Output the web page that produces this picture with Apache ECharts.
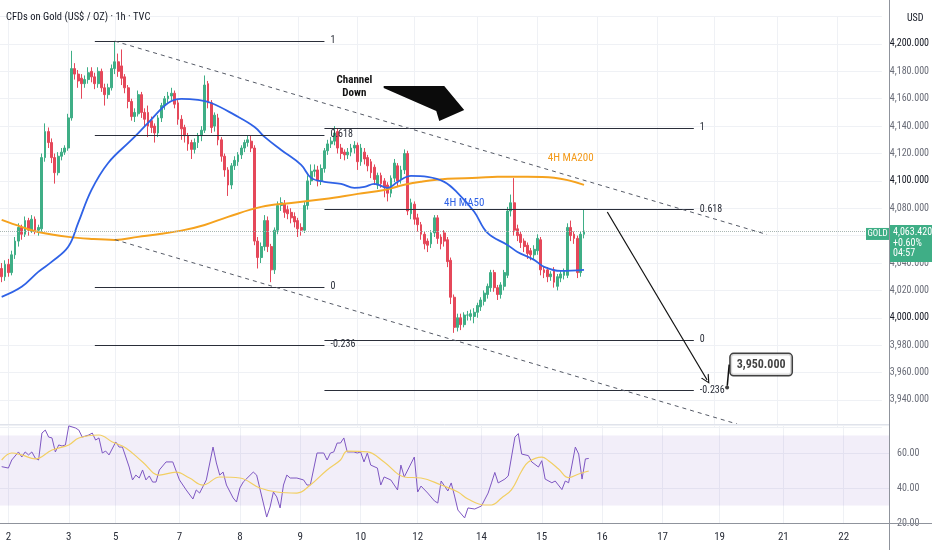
<!DOCTYPE html>
<html>
<head>
<meta charset="utf-8">
<title>CFDs on Gold (US$ / OZ) 1h</title>
<script src="https://cdn.jsdelivr.net/npm/echarts@6/dist/echarts.min.js"></script>
<style>
  body { margin: 0; padding: 0; background: #fff; overflow: hidden; }
  #chart { width: 932px; height: 550px; }
</style>
</head>
<body>
<div id="chart"></div>
<script>
// candles in slot order: [open, close, low, high]
const candles = [
  [4036,4030,4026,4040],[4030,4039,4027,4042],[4039,4033,4030,4043],[4033,4046,4031,4049],
  [4046,4056,4043,4059],[4056,4066,4052,4069],[4066,4061,4057,4068],[4061,4071,4059,4074],
  [4071,4064,4060,4073],[4064,4072,4062,4075],[4072,4064,4061,4074],[4064,4066,4060,4068],
  [4065,4117,4063,4120],[4117,4136,4114,4142],[4136,4128,4124,4139],[4128,4117,4113,4131],
  [4117,4106,4098,4120],[4106,4118,4104,4121],[4118,4121,4115,4124],[4121,4124,4119,4126],
  [4124,4146,4122,4149],[4146,4182,4144,4195],[4182,4178,4174,4186],[4178,4173,4168,4181],
  [4175,4171,4160,4178],[4171,4174,4168,4177],[4174,4179,4171,4183],[4180,4176,4172,4183],
  [4176,4171,4167,4179],[4171,4180,4168,4183],[4180,4168,4165,4182],[4168,4163,4155,4171],
  [4163,4168,4160,4171],[4168,4182,4166,4185],[4182,4187,4178,4202],[4187,4180,4176,4193],
  [4184,4175,4170,4196],[4176,4168,4164,4178],[4168,4158,4153,4170],[4158,4147,4144,4160],
  [4147,4150,4143,4153],[4149,4163,4147,4166],[4163,4150,4146,4165],[4150,4145,4140,4153],
  [4150,4140,4132,4155],[4144,4139,4135,4147],[4140,4135,4128,4142],[4135,4146,4132,4148],
  [4146,4155,4143,4157],[4155,4160,4152,4162],[4160,4162,4157,4165],[4162,4164,4159,4168],
  [4164,4156,4153,4166],[4157,4145,4141,4159],[4145,4138,4130,4148],[4139,4133,4128,4141],
  [4133,4127,4122,4135],[4128,4123,4116,4130],[4123,4128,4120,4131],[4128,4133,4124,4135],
  [4133,4137,4129,4140],[4137,4170,4135,4177],[4171,4157,4153,4173],[4157,4139,4135,4159],
  [4140,4148,4136,4150],[4146,4130,4126,4149],[4130,4118,4114,4132],[4118,4108,4103,4120],
  [4108,4097,4089,4110],[4097,4111,4094,4113],[4111,4115,4108,4118],[4114,4119,4111,4121],
  [4119,4124,4116,4126],[4124,4128,4121,4130],[4128,4130,4125,4133],[4129,4124,4121,4133],
  [4124,4056,4053,4126],[4056,4044,4036,4059],[4044,4052,4040,4055],[4052,4071,4049,4075],
  [4071,4052,4048,4074],[4052,4035,4026,4054],[4035,4064,4032,4066],[4064,4082,4061,4085],
  [4082,4084,4078,4088],[4083,4077,4073,4086],[4079,4076,4072,4082],[4077,4073,4069,4080],
  [4074,4070,4066,4077],[4071,4065,4059,4073],[4066,4064,4060,4069],[4064,4082,4062,4085],
  [4082,4100,4079,4104],[4100,4107,4097,4112],[4107,4108,4103,4112],[4108,4100,4096,4111],
  [4100,4109,4097,4112],[4109,4122,4106,4124],[4122,4127,4119,4130],[4127,4129,4124,4132],
  [4129,4135,4126,4140],[4136,4124,4120,4138],[4124,4120,4116,4127],[4121,4119,4115,4123],
  [4119,4121,4116,4124],[4121,4124,4118,4127],[4124,4126,4120,4129],[4126,4114,4108,4128],
  [4114,4124,4111,4127],[4121,4116,4112,4124],[4117,4111,4107,4119],[4114,4106,4102,4116],
  [4110,4101,4097,4112],[4097,4104,4094,4106],[4104,4098,4095,4106],[4100,4095,4088,4102],
  [4097,4091,4085,4099],[4091,4102,4088,4104],[4102,4113,4099,4116],[4111,4100,4096,4113],
  [4101,4108,4098,4111],[4108,4120,4105,4123],[4120,4078,4075,4122],[4076,4084,4072,4087],
  [4083,4072,4068,4085],[4073,4068,4063,4076],[4068,4061,4057,4070],[4061,4054,4050,4063],
  [4056,4053,4048,4058],[4054,4062,4051,4064],[4062,4073,4059,4075],[4073,4058,4054,4075],
  [4059,4054,4050,4061],[4062,4056,4052,4064],[4057,4041,4037,4059],[4042,4015,4010,4044],
  [4015,3993,3989,4017],[3993,4000,3990,4003],[4000,3995,3991,4003],[3995,4002,3993,4004],
  [4002,4002,3998,4005],[4001,4003,3998,4006],[4001,4004,3996,4007],[4004,4009,4000,4011],
  [4008,4013,4005,4015],[4012,4018,4009,4020],[4017,4023,4014,4025],[4022,4033,4019,4035],
  [4033,4022,4019,4035],[4022,4017,4013,4024],[4017,4024,4014,4026],[4023,4033,4020,4035],
  [4031,4078,4029,4081],[4078,4084,4074,4090],[4084,4064,4060,4102],[4065,4060,4056,4068],
  [4061,4055,4051,4063],[4056,4052,4048,4058],[4053,4047,4043,4055],[4049,4046,4042,4051],
  [4046,4050,4043,4053],[4049,4058,4046,4061],[4057,4035,4031,4059],[4035,4033,4029,4037],
  [4035,4030,4026,4037],[4030,4032,4027,4034],[4035,4026,4022,4037],[4023,4030,4020,4032],
  [4029,4032,4026,4034],[4031,4034,4028,4036],[4031,4066,4029,4069],[4066,4060,4056,4071],
  [4061,4058,4054,4063],[4058,4033,4029,4060],[4033,4061,4030,4063],[4061,4063.42,4058,4079]
];
const lastClose = 4063.42;

// 4H moving averages, read as [slot, price]
const ma50 = [
  [0,4015.3],[6,4022.6],[11,4033.5],[15,4040.8],[20,4051.8],[23,4069.3],[27,4093.4],[32,4113.1],
  [39,4129.9],[44,4142.3],[50,4156.9],[54,4159.9],[59,4159.1],[63,4156.9],[70,4148.2],[76,4139.4],
  [79,4132.1],[84,4122.6],[90,4111.7],[93,4102.2],[97,4099.3],[102,4097.8],[106,4094.9],[109,4095.6],
  [112,4097.8],[116,4094.9],[119,4099.3],[123,4103.7],[128,4103.0],[133,4099.3],[137,4091.3],[142,4077.4],
  [146,4062.0],[152,4053.2],[155,4048.1],[160,4042.3],[163,4037.2],[168,4034.2],[175,4035.0]
];
const ma200 = [
  [0,4071.5],[6,4066.4],[11,4062.7],[20,4059.1],[27,4057.6],[34,4056.9],[41,4059.1],[48,4061.3],
  [55,4064.2],[61,4067.8],[68,4073.7],[78,4081.0],[87,4083.9],[97,4086.8],[107,4090.5],[115,4093.4],
  [121,4097.1],[126,4099.3],[134,4101.5],[143,4102.2],[149,4103.0],[158,4103.0],[166,4102.2],[175,4097.1]
];

// RSI and its moving average, [slot, value]
const rsi = [
  [0,52.2],[2,51.4],[3,56.0],[5,60.6],[6,57.7],[7,60.6],[8,58.9],[9,60.6],[10,57.1],[11,56.0],
  [12,71.4],[13,73.1],[14,69.1],[15,68.6],[16,60.6],[17,64.6],[18,64.0],[19,64.6],[20,75.5],[22,74.3],
  [23,73.1],[24,69.1],[26,70.3],[27,71.4],[28,67.4],[29,68.6],[30,60.0],[31,61.1],[32,58.9],[34,66.3],
  [35,63.4],[36,63.4],[38,52.0],[39,44.6],[40,47.4],[41,45.7],[42,50.3],[43,44.6],[44,46.9],[45,43.4],
  [46,43.4],[47,50.3],[49,54.9],[51,54.9],[53,44.6],[55,38.9],[57,33.7],[58,38.9],[59,37.1],[61,44.6],
  [63,63.4],[64,54.3],[65,47.4],[66,49.1],[67,41.7],[69,34.3],[70,32.0],[71,40.0],[72,43.4],[75,49.1],
  [76,47.4],[78,31.4],[79,23.4],[80,29.1],[81,37.7],[82,34.9],[83,28.6],[84,41.7],[85,47.4],[86,45.7],
  [88,45.7],[90,44.6],[91,41.7],[92,41.7],[94,60.0],[96,60.0],[97,56.0],[98,60.0],[99,60.6],[100,65.7],
  [101,65.7],[102,68.6],[103,60.6],[105,60.6],[106,60.0],[107,60.6],[108,54.9],[109,60.0],[110,53.1],[112,51.4],
  [113,41.7],[114,46.3],[116,44.6],[118,38.9],[119,53.1],[120,46.3],[123,57.7],[124,37.7],[125,41.1],[127,37.1],
  [129,32.6],[130,31.4],[131,44.0],[133,38.3],[134,42.9],[135,35.4],[136,27.4],[138,22.9],[139,28.6],[141,28.0],
  [143,29.7],[145,37.1],[146,42.9],[147,48.9],[148,42.9],[150,45.1],[151,46.9],[153,69.1],[154,71.1],[155,59.4],
  [157,58.5],[158,54.9],[160,52.0],[161,55.6],[162,45.1],[164,43.0],[165,44.0],[167,39.1],[168,44.0],[169,43.0],
  [171,63.4],[172,59.4],[173,45.1],[174,56.6],[175,56.9]
];
const rsiMa = [
  [0,56.0],[3,60.0],[6,58.9],[10,56.6],[15,61.7],[20,64.6],[23,68.6],[29,70.3],[33,66.3],[37,62.9],
  [42,54.9],[47,47.4],[52,49.1],[56,45.7],[60,41.7],[65,46.3],[71,45.7],[77,40.0],[82,37.7],[88,37.1],
  [92,41.7],[97,50.3],[101,56.0],[103,61.1],[109,60.6],[114,54.9],[120,46.3],[125,45.7],[131,41.7],[136,37.7],
  [139,33.7],[144,30.3],[146,30.3],[149,34.3],[152,39.1],[155,49.7],[157,54.9],[161,57.7],[163,55.6],[166,50.9],
  [169,45.9],[172,48.0],[175,49.7]
];

// time axis: total slots incl. empty future area, and where the day labels sit
const slotCount = 265;
const dateSlots = [2, 20, 34, 53, 71, 89, 107, 124, 143, 161, 179, 197, 214, 233, 251];
const dateNames = ['2', '3', '5', '7', '8', '9', '10', '12', '14', '15', '16', '17', '19', '21', '22'];

// fibonacci levels
const fibLevels = ['1', '0.618', '0', '-0.236'];
const fibLeftPrices = [4202.3, 4133.6, 4022.6, 3980.2];
const fibRightPrices = [4138.7, 4079.0, 3983.8, 3947.0];

// drawings: channel, projection arrow, target
const channelTop = [[34, 4202.1], [230, 4060.8]];
const channelBottom = [[34, 4057.1], [221, 3922.4]];
const projection = [[182, 4077.3], [212, 3954.6]];
const target = [218, 3949];
const bigArrow = [[114.8, 4169.3], [133.0, 4169.3], [139.0, 4151.8], [131.5, 4143.7], [130.6, 4151.1], [114.8, 4167.8]];

const UP = '#3fae86';
const DOWN = '#e5485a';
const GRID_LINE = '#eff1f5';
const FONT = "'Liberation Sans Narrow', 'Roboto Condensed', 'Open Sans Condensed', Roboto, sans-serif";

const chart = echarts.init(document.getElementById('chart'));
const slots = Array.from({ length: slotCount }, (_, i) => i);
const isDate = (i) => dateSlots.indexOf(i) >= 0;

function fmtPrice(v) {
  return v.toLocaleString('en-US', { minimumFractionDigits: 3, maximumFractionDigits: 3 });
}

function fibLines(prices, from, to) {
  return prices.map((p, k) => [
    {
      coord: [from, p],
      lineStyle: { color: '#2a2e39', width: 1, type: 'solid' },
      label: { show: true, position: 'end', formatter: fibLevels[k], color: '#2a2e39', fontSize: 10, distance: 6 }
    },
    { coord: [to, p] }
  ]);
}

const dashed = { color: '#555a66', width: 1, type: [4, 4] };

const xCommon = {
  type: 'category',
  data: slots,
  boundaryGap: true,
  axisTick: { show: false },
  axisLine: { show: false },
  splitLine: { show: true, interval: (i) => isDate(i), alignWithLabel: true, lineStyle: { color: GRID_LINE } }
};

const option = {
  animation: false,
  textStyle: { fontFamily: FONT },
  title: [
    { text: 'CFDs on Gold (US$ / OZ) · 1h · TVC', left: 1, top: 7,
      textStyle: { fontSize: 10.5, fontWeight: 'normal', color: '#131722', fontFamily: FONT } },
    { text: 'USD', left: 902, top: 8,
      textStyle: { fontSize: 10, fontWeight: 'normal', color: '#131722', fontFamily: FONT } }
  ],
  grid: [
    { left: 0, right: 43, top: 16.6, height: 410.7 },
    { left: 0, right: 43, top: 425, height: 98 }
  ],
  xAxis: [
    Object.assign({}, xCommon, { gridIndex: 0, axisLabel: { show: false } }),
    Object.assign({}, xCommon, {
      gridIndex: 1,
      axisLabel: {
        interval: (i) => isDate(i),
        formatter: (v, i) => dateNames[dateSlots.indexOf(i)],
        color: '#2a2e39', fontSize: 11, margin: 9
      }
    })
  ],
  yAxis: [
    {
      gridIndex: 0, type: 'value', position: 'right', min: 3920, max: 4220, interval: 20,
      axisLine: { show: false }, axisTick: { show: false },
      splitLine: { lineStyle: { color: GRID_LINE } },
      axisLabel: {
        showMinLabel: false, showMaxLabel: false, margin: 8, fontSize: 10,
        color: (v) => (Number(v) % 100 === 0 ? '#131722' : '#6a6d78'),
        formatter: fmtPrice
      }
    },
    {
      gridIndex: 1, type: 'value', position: 'right', min: 20, max: 76, interval: 20,
      axisLine: { show: false }, axisTick: { show: false },
      splitLine: { lineStyle: { color: GRID_LINE } },
      axisLabel: { showMaxLabel: false, margin: 8, fontSize: 10, color: '#6a6d78', formatter: (v) => v.toFixed(2) }
    }
  ],
  series: [
    {
      name: 'GOLD', type: 'candlestick', xAxisIndex: 0, yAxisIndex: 0,
      data: candles, barWidth: '70%',
      itemStyle: { color: UP, color0: DOWN, borderColor: UP, borderColor0: DOWN, borderWidth: 1 },
      markLine: {
        silent: true, symbol: 'none',
        data: [
          { yAxis: lastClose, lineStyle: { color: '#a9b7b3', width: 1, type: 'dotted' }, label: { show: false } }
        ]
      }
    },
    {
      name: '4H MA200', type: 'line', xAxisIndex: 0, yAxisIndex: 0,
      data: ma200, smooth: 0.4, showSymbol: false, silent: true,
      lineStyle: { color: '#f5a21e', width: 2 },
      markPoint: {
        symbol: 'circle', symbolSize: 0, silent: true,
        data: [
          { coord: [171, 4116.8], label: { show: true, position: 'inside', formatter: '4H MA200', color: '#f39a1a', fontSize: 11 } },
          { coord: [106, 4169.0], label: { show: true, position: 'inside', formatter: 'Channel\nDown', color: '#111', fontSize: 11, fontWeight: 'bold', lineHeight: 13 } }
        ]
      },
      markLine: {
        silent: true, symbol: 'none',
        data: [].concat(
          fibLines(fibLeftPrices, 28, 97),
          fibLines(fibRightPrices, 97, 208),
          [
            [{ coord: channelTop[0], lineStyle: dashed, label: { show: false } }, { coord: channelTop[1] }],
            [{ coord: channelBottom[0], lineStyle: dashed, label: { show: false } }, { coord: channelBottom[1] }],
            [
              { coord: projection[0], symbol: 'none', lineStyle: { color: '#111', width: 1.2, type: 'solid' }, label: { show: false } },
              { coord: projection[1], symbol: 'path://M0,10 L5,0 L10,10 L8.6,10 L5,2.8 L1.4,10 Z', symbolSize: [9, 9] }
            ]
          ]
        )
      }
    },
    {
      name: '4H MA50', type: 'line', xAxisIndex: 0, yAxisIndex: 0,
      data: ma50, smooth: 0.4, showSymbol: false, silent: true,
      lineStyle: { color: '#2f62e6', width: 1.8 },
      markPoint: {
        symbol: 'circle', symbolSize: 0, silent: true,
        data: [
          { coord: [139, 4083.9], label: { show: true, position: 'inside', formatter: '4H MA50', color: '#2f62e6', fontSize: 11 } }
        ]
      }
    },
    {
      name: 'channel arrow', type: 'custom', xAxisIndex: 0, yAxisIndex: 0, silent: true,
      data: [0],
      renderItem: function (params, api) {
        const pts = bigArrow.map(function (d) {
          const a = api.coord([0, d[1]]);
          const b = api.coord([1, d[1]]);
          return [a[0] + d[0] * (b[0] - a[0]), a[1]];
        });
        return { type: 'polygon', shape: { points: pts }, style: { fill: '#0b0b0b' } };
      }
    },
    {
      name: 'target', type: 'scatter', xAxisIndex: 0, yAxisIndex: 0, silent: true,
      data: [target], symbolSize: 4, itemStyle: { color: '#111' },
      label: {
        show: true, position: 'inside', formatter: '3,950.000',
        color: '#111', fontSize: 12, fontWeight: 'bold',
        backgroundColor: '#fff', borderColor: '#111', borderWidth: 1.5, borderRadius: 3, padding: [5, 6, 4, 6]
      },
      labelLayout: { dx: 34, dy: -23 },
      labelLine: { show: true, lineStyle: { color: '#111', width: 1.5 } }
    },
    {
      name: 'RSI', type: 'line', xAxisIndex: 1, yAxisIndex: 1,
      data: rsi, showSymbol: false, silent: true,
      lineStyle: { color: '#7e57c2', width: 1 },
      markArea: {
        silent: true,
        itemStyle: { color: 'rgba(126, 87, 194, 0.1)' },
        data: [[{ yAxis: 30 }, { yAxis: 70 }]]
      }
    },
    {
      name: 'RSI MA', type: 'line', xAxisIndex: 1, yAxisIndex: 1,
      data: rsiMa, smooth: 0.4, showSymbol: false, silent: true,
      lineStyle: { color: '#f2cf63', width: 1.2 }
    }
  ]
};

chart.setOption(option);

// price scale frame and the last price tag
const frameX = 889.5;
const py = chart.convertToPixel({ yAxisIndex: 0 }, lastClose);
chart.setOption({
  graphic: [
    { type: 'line', z: 50, shape: { x1: 0, y1: 424.5, x2: frameX, y2: 424.5 }, style: { stroke: '#e0e3eb', lineWidth: 1 } },
    { type: 'line', z: 50, shape: { x1: 0, y1: 523.5, x2: 932, y2: 523.5 }, style: { stroke: '#8f939c', lineWidth: 1 } },
    { type: 'line', z: 50, shape: { x1: frameX, y1: 0, x2: frameX, y2: 550 }, style: { stroke: '#8f939c', lineWidth: 1 } },
    { type: 'rect', z: 60, shape: { x: 866, y: py - 3, width: 23, height: 12 }, style: { fill: UP } },
    { type: 'text', z: 61, x: 877.5, y: py + 3, style: { text: 'GOLD', fill: '#fff', font: '9px ' + FONT, textAlign: 'center', textVerticalAlign: 'middle' } },
    { type: 'rect', z: 60, shape: { x: 890, y: py - 6, width: 42, height: 37 }, style: { fill: UP } },
    { type: 'text', z: 61, x: 893, y: py + 2, style: { text: fmtPrice(lastClose), fill: '#fff', font: '10px ' + FONT, textVerticalAlign: 'middle' } },
    { type: 'text', z: 61, x: 893, y: py + 12.5, style: { text: '+0.60%', fill: '#fff', font: '10px ' + FONT, textVerticalAlign: 'middle' } },
    { type: 'text', z: 61, x: 893, y: py + 23, style: { text: '04:57', fill: '#fff', font: '10px ' + FONT, textVerticalAlign: 'middle' } }
  ]
});

window.addEventListener('resize', function () {
  chart.resize();
});
</script>
</body>
</html>
